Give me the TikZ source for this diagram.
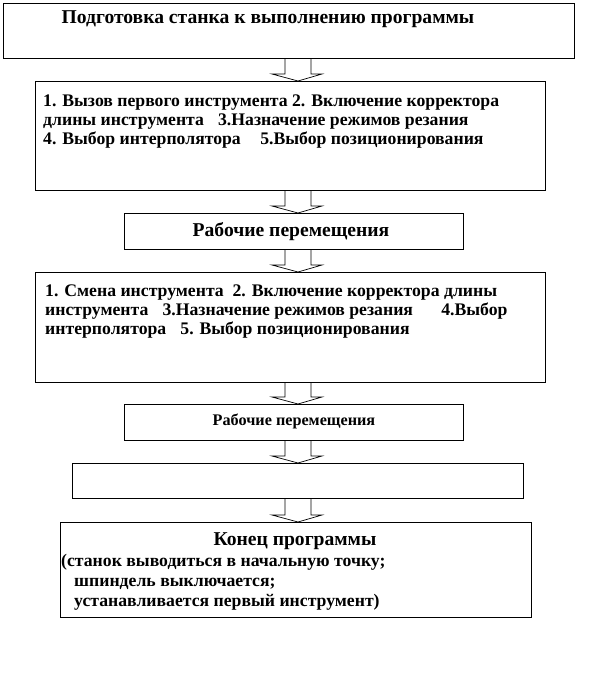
\documentclass[tikz,border=0pt]{standalone}
\usepackage{fontspec}
\setmainfont{Liberation Serif}
\usetikzlibrary{calc}
\newcommand\titlefont{\fontsize{19.6}{22}\bfseries\selectfont}
\newcommand\bodyfont{\fontsize{17.7}{20}\bfseries\selectfont}
\newcommand\smallfont{\fontsize{16.2}{18}\bfseries\selectfont}
\newcommand\blockarrow[2]{%
  \draw[arr] ($(#1.south -| ax)+(-13,0)$) -- ($(#2.north -| ax)+(-13,-7)$)
    -- ($(#2.north -| ax)+(-26,-7)$) -- (#2.north -| ax)
    -- ($(#2.north -| ax)+(24,-7)$) -- ($(#2.north -| ax)+(13,-7)$)
    -- ($(#1.south -| ax)+(13,0)$);}
\begin{document}
\begin{tikzpicture}[x=1pt,y=-1pt,
  box/.style={draw=black,line width=0.8pt,fill=white,anchor=north west,inner sep=0pt},
  arr/.style={draw=black,line width=0.7pt},
  txt/.style={inner sep=0pt},
  lft/.style={txt,anchor=base west,font=\bodyfont},
  ctr/.style={txt,anchor=base,font=\titlefont}]
\useasboundingbox (0,0) rectangle (613,678);
\coordinate (ax) at (298,0);
% boxes
\node[box,minimum width=571pt,minimum height=55pt] (b1) at (3,3) {};
\node[box,minimum width=510pt,minimum height=109pt] (b2) at (35,81) {};
\node[box,minimum width=339pt,minimum height=36pt] (b3) at (124,213) {};
\node[box,minimum width=510pt,minimum height=110pt] (b4) at (35,272) {};
\node[box,minimum width=339pt,minimum height=36pt] (b5) at (124,404) {};
\node[box,minimum width=451pt,minimum height=35pt] (b6) at (72,463) {};
\node[box,minimum width=471pt,minimum height=95pt] (b7) at (60,522) {};
% texts
\node[ctr] (t1) at (268,23) {Подготовка станка к выполнению программы};
\node[lft] (t2a) at (43,106) {1. Вызов первого инструмента 2. Включение корректора};
\node[lft] (t2b) at (43,125) {длины инструмента\hspace{0.8em}3.Назначение режимов резания};
\node[lft] (t2c) at (43,144) {4. Выбор интерполятора\hspace{1.1em}5.Выбор позиционирования};
\node[ctr] (t3) at (291,236) {Рабочие перемещения};
\node[lft] (t4a) at (45,296) {1. Смена инструмента\hspace{0.5em}2. Включение корректора длины};
\node[lft] (t4b) at (45,315) {инструмента\hspace{0.8em}3.Назначение режимов резания\hspace{1.6em}4.Выбор};
\node[lft] (t4c) at (45,334) {интерполятора\hspace{0.8em}5. Выбор позиционирования};
\node[txt,anchor=base,font=\smallfont] (t5) at (294,425) {Рабочие перемещения};
\node[ctr] (t7a) at (295,545) {Конец программы};
\node[lft] (t7b) at (61,566) {(станок выводиться в начальную точку;};
\node[lft] (t7c) at (74,586) {шпиндель выключается;};
\node[lft] (t7d) at (74,606) {устанавливается первый инструмент)};
% arrows
\blockarrow{b1}{b2}
\blockarrow{b2}{b3}
\blockarrow{b3}{b4}
\blockarrow{b4}{b5}
\blockarrow{b5}{b6}
\blockarrow{b6}{b7}
\end{tikzpicture}
\end{document}
